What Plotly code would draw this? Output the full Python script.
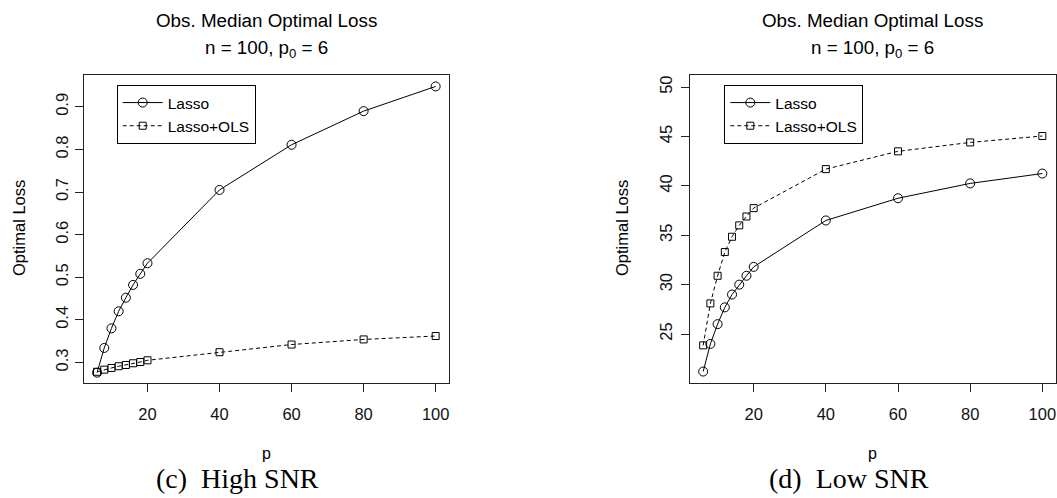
import plotly.graph_objects as go

# ---- data ----
p_vals = [6, 8, 10, 12, 14, 16, 18, 20, 40, 60, 80, 100]

high_lasso = [0.276, 0.334, 0.380, 0.420, 0.452, 0.482, 0.508, 0.533, 0.705, 0.811, 0.890, 0.948]
high_lasso_ols = [0.278, 0.283, 0.287, 0.291, 0.294, 0.298, 0.301, 0.305, 0.324, 0.342, 0.354, 0.362]

low_lasso = [21.2, 24.0, 26.0, 27.7, 29.0, 30.0, 30.9, 31.8, 36.5, 38.75, 40.25, 41.25]
low_lasso_ols = [23.85, 28.1, 30.9, 33.3, 34.85, 36.0, 36.9, 37.75, 41.7, 43.5, 44.4, 45.05]

x_ticks = [20, 40, 60, 80, 100]
high_y_ticks = [0.3, 0.4, 0.5, 0.6, 0.7, 0.8, 0.9]
low_y_ticks = [25, 30, 35, 40, 45, 50]

series_names = ["Lasso", "Lasso+OLS"]
main_title = "Obs. Median Optimal Loss"
sub_title = "n = 100, p<sub>0</sub> = 6"
captions = ["(c)\u00a0\u00a0High SNR", "(d)\u00a0\u00a0Low SNR"]

W, H = 1057, 498
SANS = "Liberation Sans, Arial, sans-serif"
SERIF = "Liberation Serif, Times New Roman, serif"


def px(x):
    return x / W


def py(y):
    return 1 - y / H


fig = go.Figure()

panels = [
    dict(xa="x", ya="y", leg="legend", data=(high_lasso, high_lasso_ols)),
    dict(xa="x2", ya="y2", leg="legend2", data=(low_lasso, low_lasso_ols)),
]
for pan in panels:
    lasso, ols = pan["data"]
    fig.add_trace(go.Scatter(
        x=p_vals, y=lasso, mode="lines+markers", name=series_names[0],
        xaxis=pan["xa"], yaxis=pan["ya"], legend=pan["leg"],
        line=dict(color="black", width=1),
        marker=dict(symbol="circle-open", size=9, color="black", line=dict(width=1, color="black")),
    ))
    fig.add_trace(go.Scatter(
        x=p_vals, y=ols, mode="lines+markers", name=series_names[1],
        xaxis=pan["xa"], yaxis=pan["ya"], legend=pan["leg"],
        line=dict(color="black", width=1, dash="4px,3px"),
        marker=dict(symbol="square-open", size=7, color="black", line=dict(width=1, color="black")),
    ))

axis_common = dict(
    showgrid=False, zeroline=False, showline=True, mirror=True,
    linecolor="#222", linewidth=1, ticks="outside", ticklen=8, tickwidth=1,
    tickcolor="#222", tickfont=dict(family=SANS, size=16.5, color="#111"),
)

left_dom = [px(83.5), px(449.2)]
right_dom = [px(689.6), px(1055.9)]
y_dom = [py(383.3), py(74.5)]

legend_common = dict(
    xanchor="left", yanchor="top", bordercolor="black", borderwidth=1,
    bgcolor="white", itemwidth=40,
    font=dict(family=SANS, size=15.5, color="black"),
)

fig.update_layout(
    width=W, height=H,
    margin=dict(l=0, r=0, t=0, b=0),
    paper_bgcolor="white", plot_bgcolor="white",
    xaxis=dict(domain=left_dom, range=[2.24, 103.76], tickvals=x_ticks,
               anchor="y", ticklabelstandoff=8, **axis_common),
    yaxis=dict(domain=y_dom, range=[0.251, 0.976], tickvals=high_y_ticks,
               anchor="x", tickangle=-90, ticklabelstandoff=0, **axis_common),
    xaxis2=dict(domain=right_dom, range=[2.24, 103.76], tickvals=x_ticks,
                anchor="y2", ticklabelstandoff=8, **axis_common),
    yaxis2=dict(domain=y_dom, range=[20.01, 51.28], tickvals=low_y_ticks,
                anchor="x2", tickangle=-90, ticklabelstandoff=2, **axis_common),
    legend=dict(x=px(116.7), y=py(85), **legend_common),
    legend2=dict(x=px(724.3), y=py(85), **legend_common),
    showlegend=True,
)

annots = []
for cx, ycx in [(266.3, 19), (872.7, 622)]:
    annots.append(dict(text=main_title, x=px(cx), y=py(21), xref="paper", yref="paper",
                       xanchor="center", yanchor="middle", showarrow=False,
                       font=dict(family=SANS, size=18.8, color="black")))
    annots.append(dict(text=sub_title, x=px(cx), y=py(49), xref="paper", yref="paper",
                       xanchor="center", yanchor="middle", showarrow=False,
                       font=dict(family=SANS, size=18.8, color="black")))
    annots.append(dict(text="p", x=px(cx), y=py(453), xref="paper", yref="paper",
                       xanchor="center", yanchor="middle", showarrow=False,
                       font=dict(family=SANS, size=16, color="black")))
    annots.append(dict(text="Optimal Loss", x=px(ycx), y=py(228), xref="paper", yref="paper",
                       xanchor="center", yanchor="middle", showarrow=False, textangle=-90,
                       font=dict(family=SANS, size=16.5, color="black")))
for capx, cap in zip([237.5, 848.5], captions):
    annots.append(dict(text=cap, x=px(capx), y=py(478), xref="paper", yref="paper",
                       xanchor="center", yanchor="middle", showarrow=False,
                       font=dict(family=SERIF, size=28, color="black")))

fig.update_layout(annotations=annots)

fig.write_html("out.html")
